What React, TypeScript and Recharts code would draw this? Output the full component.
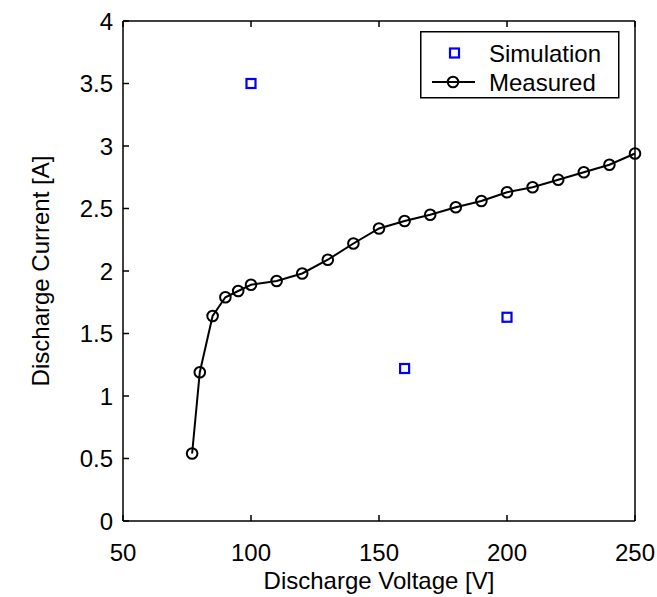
import React from 'react';
import { ComposedChart, Line, Scatter, XAxis, YAxis, Legend } from 'recharts';

const measuredVoltage = [77, 80, 85, 90, 95, 100, 110, 120, 130, 140, 150, 160, 170, 180, 190, 200, 210, 220, 230, 240, 250];
const measuredCurrent = [0.54, 1.19, 1.64, 1.79, 1.84, 1.89, 1.92, 1.98, 2.09, 2.22, 2.34, 2.40, 2.45, 2.51, 2.56, 2.63, 2.67, 2.73, 2.79, 2.85, 2.94];
const simulationVoltage = [100, 160, 200];
const simulationCurrent = [3.5, 1.22, 1.63];
const xTicks = [50, 100, 150, 200, 250];
const yTicks = [0, 0.5, 1, 1.5, 2, 2.5, 3, 3.5, 4];

const measured = measuredVoltage.map((v, i) => ({ v, i: measuredCurrent[i] }));
const simulation = simulationVoltage.map((v, i) => ({ v, i: simulationCurrent[i] }));

const FONT = '"Liberation Sans", Arial, Helvetica, sans-serif';
const FS = 24;
const TL = 6;

const BottomTick = (p: any) => (
  <g>
    <line x1={p.x} y1={p.y} x2={p.x} y2={p.y - TL} stroke="#000" strokeWidth={1.5} />
    <text x={p.x} y={p.y + 40} textAnchor="middle" fontFamily={FONT} fontSize={FS} fill="#000">
      {p.payload.value}
    </text>
  </g>
);
const TopTick = (p: any) => (
  <line x1={p.x} y1={p.y} x2={p.x} y2={p.y + TL} stroke="#000" strokeWidth={1.5} />
);
const LeftTick = (p: any) => (
  <g>
    <line x1={p.x} y1={p.y} x2={p.x + TL} y2={p.y} stroke="#000" strokeWidth={1.5} />
    <text x={p.x - 10} y={p.y + 8.5} textAnchor="end" fontFamily={FONT} fontSize={FS} fill="#000">
      {p.payload.value}
    </text>
  </g>
);
const RightTick = (p: any) => (
  <line x1={p.x} y1={p.y} x2={p.x - TL} y2={p.y} stroke="#000" strokeWidth={1.5} />
);

const Square = (p: any) => (
  <rect x={p.cx - 4.5} y={p.cy - 4.5} width={9} height={9} fill="none" stroke="#0000ff" strokeWidth={2.2} />
);
const Circle = (p: any) => (
  <circle key={p.index} cx={p.cx} cy={p.cy} r={5.3} fill="none" stroke="#000" strokeWidth={2} />
);

const XLabel = (p: any) => {
  const vb = p.viewBox;
  return (
    <text x={vb.x + vb.width / 2} y={vb.y + 68} textAnchor="middle" fontFamily={FONT} fontSize={FS} fill="#000">
      Discharge Voltage [V]
    </text>
  );
};
const YLabel = (p: any) => {
  const vb = p.viewBox;
  const cy = vb.y + vb.height / 2;
  return (
    <text x={40} y={cy} transform={`rotate(-90, 40, ${cy})`} textAnchor="middle" dominantBaseline="central" fontFamily={FONT} fontSize={FS} fill="#000">
      Discharge Current [A]
    </text>
  );
};

const LegendBox = () => (
  <svg width={200} height={68} style={{ display: 'block' }}>
    <rect x={0.75} y={0.75} width={198} height={66} fill="#fff" stroke="#000" strokeWidth={1.5} />
    <rect x={30} y={17.5} width={9} height={9} fill="none" stroke="#0000ff" strokeWidth={2.2} />
    <line x1={12} y1={51} x2={55} y2={51} stroke="#000" strokeWidth={2} />
    <circle cx={33} cy={51} r={5.3} fill="none" stroke="#000" strokeWidth={2} />
    <text x={69} y={30.5} fontFamily={FONT} fontSize={FS} fill="#000">Simulation</text>
    <text x={69} y={59.5} fontFamily={FONT} fontSize={FS} fill="#000">Measured</text>
  </svg>
);

export default function App() {
  return (
    <div style={{ position: 'absolute', left: 0, top: 0, background: '#fff' }}>
      <ComposedChart width={657} height={597} data={measured} margin={{ top: 0, right: 0, bottom: 0, left: 0 }}>
        <XAxis xAxisId="b" dataKey="v" type="number" domain={[50, 250]} ticks={xTicks} interval={0}
          orientation="bottom" height={76} tickSize={0} tickMargin={0} tickLine={false}
          axisLine={{ stroke: '#000', strokeWidth: 1.5 }} tick={<BottomTick />} label={<XLabel />} />
        <XAxis xAxisId="t" dataKey="v" type="number" domain={[50, 250]} ticks={xTicks} interval={0}
          orientation="top" height={21} tickSize={0} tickMargin={0} tickLine={false}
          axisLine={{ stroke: '#000', strokeWidth: 1.5 }} tick={<TopTick />} />
        <YAxis yAxisId="l" type="number" domain={[0, 4]} ticks={yTicks} interval={0}
          orientation="left" width={123} tickSize={0} tickMargin={0} tickLine={false}
          axisLine={{ stroke: '#000', strokeWidth: 1.5 }} tick={<LeftTick />} label={<YLabel />} />
        <YAxis yAxisId="r" type="number" domain={[0, 4]} ticks={yTicks} interval={0}
          orientation="right" width={22} tickSize={0} tickMargin={0} tickLine={false}
          axisLine={{ stroke: '#000', strokeWidth: 1.5 }} tick={<RightTick />} />
        <Legend layout="vertical" align="center" verticalAlign="middle" content={<LegendBox />}
          wrapperStyle={{ position: 'absolute', left: 420, top: 31, width: 200, height: 68 }} />
        <Line xAxisId="b" yAxisId="l" dataKey="i" name="Measured" stroke="#000" strokeWidth={2}
          dot={<Circle />} activeDot={false} isAnimationActive={false} />
        <Scatter xAxisId="b" yAxisId="l" data={simulation} dataKey="i" name="Simulation"
          shape={<Square />} isAnimationActive={false} />
      </ComposedChart>
    </div>
  );
}
